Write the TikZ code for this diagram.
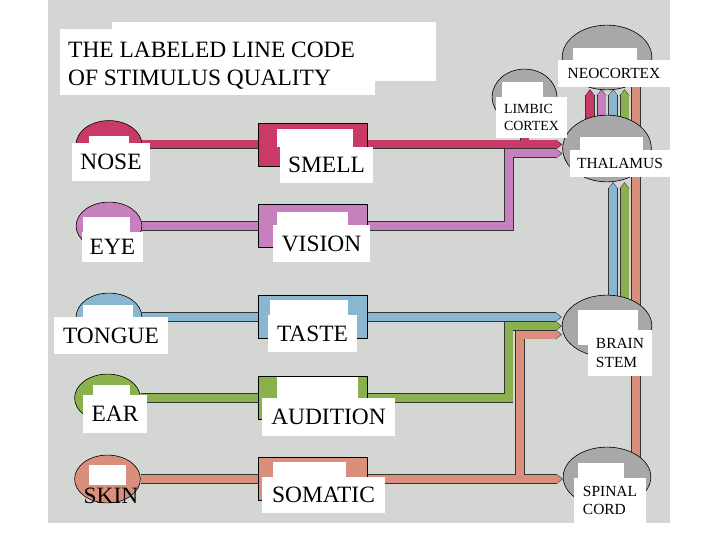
\documentclass[tikz,border=0pt]{standalone}
\usepackage{fontspec}
\setmainfont{Liberation Serif}
\usetikzlibrary{shapes.geometric,arrows.meta,calc}
\definecolor{paper}{RGB}{212,214,211}
\definecolor{braingray}{RGB}{168,168,168}
\definecolor{tractred}{RGB}{201,58,103}
\definecolor{tractpink}{RGB}{199,128,190}
\definecolor{tractblue}{RGB}{138,183,208}
\definecolor{tractgreen}{RGB}{139,177,78}
\definecolor{tractsalmon}{RGB}{218,143,124}
\newcommand\organfont{\fontsize{23.5}{26}\selectfont}
\newcommand\brainfont{\fontsize{15.5}{18.5}\selectfont}
\newcommand\limbicfont{\fontsize{14}{17}\selectfont}
\newcommand\titlefont{\fontsize{23.5}{28}\selectfont}
\pgfdeclarelayer{back}
\pgfdeclarelayer{tracts}
\pgfsetlayers{back,tracts,main}

\begin{document}
\begin{tikzpicture}[
    x=1bp, y=-1bp,
    organ/.style={ellipse, draw=black, line width=0.6bp, fill=#1, minimum width=66, minimum height=48, inner sep=0pt},
    relay/.style={rectangle, draw=black, line width=0.8bp, fill=#1, minimum width=110, minimum height=43, inner sep=0pt},
    brain/.style={ellipse, draw=black, line width=0.6bp, fill=braingray, inner sep=0pt},
    trunk/.style={draw=#1, line width=8bp, preaction={draw=black!80, line width=9.6bp}},
    tract/.style={draw=#1, line width=8bp, shorten >=1bp, -{Triangle[length=5bp,width=8bp]},
        preaction={draw=black!80, line width=9.6bp, shorten >=0bp, -{Triangle[length=6.5bp,width=9.6bp]}}},
    lbl/.style={fill=white, inner sep=0pt, font=\organfont},
    smalllbl/.style={fill=white, inner sep=0pt, align=left, font=\brainfont},
    patch/.style={white}
]
\useasboundingbox (0,0) rectangle (720,540);
\begin{pgfonlayer}{back}
\fill[paper] (48,0) rectangle (670,523);
\end{pgfonlayer}

% sense organs
\node[organ=tractred] (nose) at (109,144.5) {};
\node[organ=tractpink] (eye) at (109,226) {};
\node[organ=tractblue] (tongue) at (109,317) {};
\node[organ=tractgreen] (ear) at (107.5,398) {};
\node[organ=tractsalmon] (skin) at (107.5,479) {};

% relay boxes
\node[relay=tractred] (smellbox) at (313,144.5) {};
\node[relay=tractpink] (visionbox) at (313,226) {};
\node[relay=tractblue] (tastebox) at (313,317) {};
\node[relay=tractgreen] (auditionbox) at (313,398) {};
\node[relay=tractsalmon] (somaticbox) at (313,479) {};

% brain
\node[brain, minimum width=90, minimum height=65] (neocortex) at (607,57.5) {};
\node[brain, minimum width=65, minimum height=56] (limbic) at (524.5,97) {};
\node[brain, minimum width=89, minimum height=67] (thalamus) at (607,148.5) {};
\node[brain, minimum width=90, minimum height=62] (brainstem) at (607,326) {};
\node[brain, minimum width=88, minimum height=60] (spinalcord) at (607,477) {};

\coordinate (pinkturn) at (509,153.5);
\coordinate (greenturn) at (508.5,326);
\coordinate (salmonturn) at (520,334.5);

\begin{pgfonlayer}{tracts}
\draw[trunk=tractred] (nose) -- (smellbox);
\draw[tract=tractred] (smellbox.east) -- (smellbox.east -| thalamus.west);
\draw[trunk=tractred] ($(limbic |- smellbox.east)+(0,-3.8)$) -- (limbic);
\draw[trunk=tractpink] (eye) -- (visionbox);
\draw[tract=tractpink] (visionbox.east) -| (pinkturn) -- (pinkturn -| thalamus.west);
\draw[trunk=tractblue] (tongue) -- (tastebox);
\draw[tract=tractblue] (tastebox.east) -- (tastebox.east -| brainstem.west);
\draw[trunk=tractgreen] (ear) -- (auditionbox);
\draw[tract=tractgreen] (auditionbox.east) -| (greenturn) -- (greenturn -| brainstem.west);
\draw[trunk=tractsalmon] (skin) -- (somaticbox);
\draw[tract=tractsalmon] (somaticbox.east) -- (somaticbox.east -| spinalcord.west);
\draw[tract=tractsalmon] ($(salmonturn |- somaticbox.east)+(0,-3.8)$) -- (salmonturn) -- (salmonturn -| brainstem.west);
% ascending bundle
\draw[trunk=tractsalmon] ($(spinalcord.center)+(29,0)$) -- ($(neocortex.center)+(29,0)$);
\foreach \dx/\col in {6/tractblue, 17.5/tractgreen}
  \draw[tract=\col] ($(brainstem.center)+(\dx,0)$) -- ($(thalamus.south)+(\dx,0)$);
\foreach \dx/\col in {-17/tractred, -5.5/tractpink, 6/tractblue, 17.5/tractgreen}
  \draw[tract=\col] ($(thalamus.center)+(\dx,0)$) -- ($(neocortex.south)+(\dx,-1)$);
\end{pgfonlayer}

% white label patches
\fill[patch] (112,22) rectangle (436,81);
\fill[patch] (60,29) rectangle (375,95);
\fill[patch] (89,136) rectangle (129,143);
\fill[patch] (277,129) rectangle (353,147);
\fill[patch] (83,217) rectangle (130,232);
\fill[patch] (277,212) rectangle (348,225);
\fill[patch] (83,305) rectangle (133,317);
\fill[patch] (270,300) rectangle (348,315);
\fill[patch] (93,385) rectangle (130,395);
\fill[patch] (277,377) rectangle (358,398);
\fill[patch] (89,465) rectangle (126,485);
\fill[patch] (273,462) rectangle (346,477);
\fill[patch] (573,48) rectangle (637,60);
\fill[patch] (502,82) rectangle (543,97);
\fill[patch] (580,137) rectangle (643,150);
\fill[patch] (578,310) rectangle (638,345);
\fill[patch] (578,463) rectangle (624,478);

% labels
\node[anchor=north west, inner sep=0pt, align=left, font=\titlefont] (title) at (68,42) {THE LABELED LINE CODE\\OF STIMULUS QUALITY};
\node[lbl, minimum width=78, minimum height=38] (nosetext) at (111,162) {NOSE};
\node[lbl, minimum width=93, minimum height=36] (smelltext) at (326.5,165) {SMELL};
\node[lbl, minimum width=61, minimum height=30] (eyetext) at (112.5,247) {EYE};
\node[lbl, minimum width=97, minimum height=37] (visiontext) at (321.5,243.5) {VISION};
\node[lbl, minimum width=114, minimum height=37] (tonguetext) at (111,335.5) {TONGUE};
\node[lbl, minimum width=89, minimum height=37] (tastetext) at (312.5,333.5) {TASTE};
\node[lbl, minimum width=64, minimum height=38] (eartext) at (115,414) {EAR};
\node[lbl, minimum width=133, minimum height=38] (auditiontext) at (328.5,417) {AUDITION};
\node[lbl, fill=none] (skintext) at (111,495.5) {SKIN};
\node[lbl, minimum width=123, minimum height=36] (somatictext) at (323.5,495) {SOMATIC};
\node[smalllbl, minimum width=112, minimum height=27] (neotext) at (614,73.5) {NEOCORTEX};
\node[smalllbl, font=\limbicfont, minimum width=71, minimum height=41] (limbictext) at (531.5,117.5) {LIMBIC\\CORTEX};
\node[smalllbl, minimum width=100, minimum height=27] (thaltext) at (620,163.5) {THALAMUS};
\node[smalllbl, minimum width=64, minimum height=46] (stemtext) at (620,353) {BRAIN\\STEM};
\node[smalllbl, minimum width=72, minimum height=45] (cordtext) at (610,500.5) {SPINAL\\CORD};
\end{tikzpicture}
\end{document}
